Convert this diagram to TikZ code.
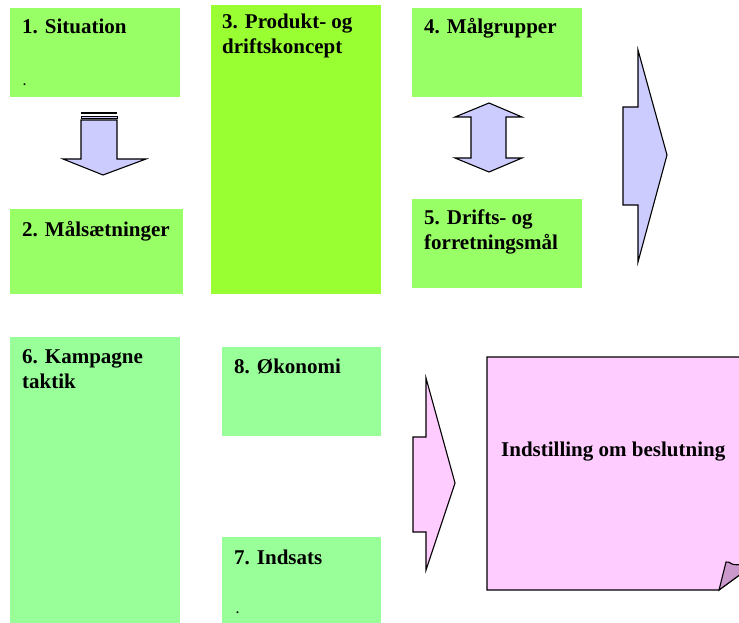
\documentclass[tikz,border=0pt]{standalone}
\usepackage{fontspec}
\setmainfont{Liberation Serif}
\definecolor{gA}{HTML}{99FF66}
\definecolor{gB}{HTML}{99FF99}
\definecolor{gC}{HTML}{99FF33}
\definecolor{lav}{HTML}{CCCCFF}
\definecolor{pnk}{HTML}{FFCCFF}
\definecolor{fold}{HTML}{CC99CC}
\begin{document}
\begin{tikzpicture}[x=1pt,y=-1pt,
  box/.style={rectangle,draw=none,inner sep=0pt,anchor=north west},
  lbl/.style={inner sep=0pt,anchor=base west,font=\fontsize{21}{25}\selectfont\bfseries},
  dotlbl/.style={inner sep=0pt,anchor=base west,font=\fontsize{12}{14}\selectfont\bfseries},
  shapeline/.style={draw=black,line width=1.1pt,line join=miter}]
\useasboundingbox (0,0) rectangle (739,623);
\clip (0,0) rectangle (739,623);
% boxes
\node[box,fill=gA,minimum width=170pt,minimum height=89pt] (b1) at (10,8) {};
\node[box,fill=gA,minimum width=173pt,minimum height=85pt] (b2) at (10,209) {};
\node[box,fill=gC,minimum width=170pt,minimum height=289pt] (b3) at (211,5) {};
\node[box,fill=gA,minimum width=170pt,minimum height=89pt] (b4) at (412,8) {};
\node[box,fill=gA,minimum width=170pt,minimum height=89pt] (b5) at (412,199) {};
\node[box,fill=gB,minimum width=170pt,minimum height=290pt] (b6) at (10,337) {};
\node[box,fill=gB,minimum width=159pt,minimum height=89pt] (b8) at (222,347) {};
\node[box,fill=gB,minimum width=159pt,minimum height=90pt] (b7) at (222,537) {};
% labels
\node[lbl] (t1) at (22,34) {1. Situation};
\node[dotlbl] (d1) at (23,86) {.};
\node[lbl] (t2) at (22,236) {2. Målsætninger};
\node[lbl] (t3a) at (222,29) {3. Produkt- og};
\node[lbl] (t3b) at (222,54) {driftskoncept};
\node[lbl] (t4) at (424,34) {4. Målgrupper};
\node[lbl] (t5a) at (424,224) {5. Drifts- og};
\node[lbl] (t5b) at (424,249) {forretningsmål};
\node[lbl] (t6a) at (22,363) {6. Kampagne};
\node[lbl] (t6b) at (22,388) {taktik};
\node[lbl] (t8) at (234,373) {8. Økonomi};
\node[lbl] (t7) at (234,564) {7. Indsats};
\node[dotlbl] (d7) at (236,613) {.};
% striped down arrow 1 -> 2
\fill[black] (81,112) rectangle (117,114.5);
\filldraw[fill=lav,draw=black,line width=0.8pt] (81,116.5) rectangle (117,118.5);
\filldraw[fill=lav,shapeline] (81,120) -- (117,120) -- (117,159) -- (146,159) -- (103,175) -- (63,159) -- (81,159) -- cycle;
% up-down arrow 4 <-> 5
\filldraw[fill=lav,shapeline] (489,103) -- (522,117) -- (506,117) -- (506,158) -- (522,158) -- (489,172) -- (455,158) -- (471,158) -- (471,117) -- (455,117) -- cycle;
% big blue right arrow
\filldraw[fill=lav,shapeline] (638,50) -- (667,155) -- (638,262) -- (638,205) -- (623,205) -- (623,107) -- (638,107) -- cycle;
% pink right arrow
\filldraw[fill=pnk,shapeline] (426,378) -- (455,483) -- (426,570) -- (426,532) -- (413,532) -- (413,437) -- (426,437) -- cycle;
% decision note
\filldraw[fill=pnk,shapeline] (487,357) -- (760,357) -- (760,560) -- (719,590) -- (487,590) -- cycle;
\filldraw[fill=fold,shapeline] (719,590) -- (726,562) .. controls (728,561) and (730,563) .. (732,564) .. controls (735,565) and (738,565) .. (745,564) -- (760,560) -- cycle;
\node[lbl] (note) at (501,456) {Indstilling om beslutning};
\end{tikzpicture}
\end{document}
